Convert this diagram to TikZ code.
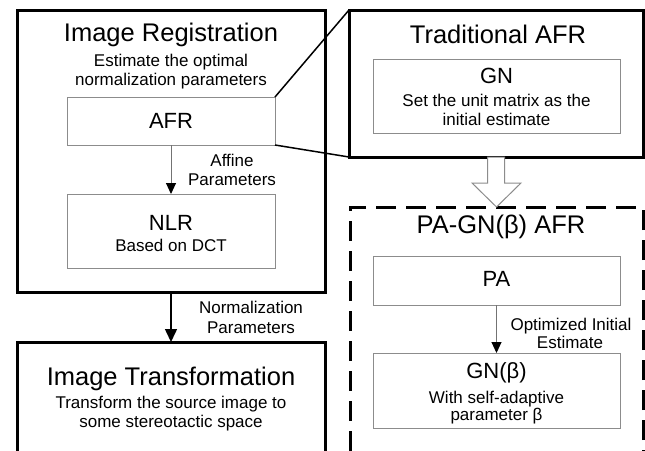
\documentclass[tikz,border=0pt]{standalone}
\usepackage{fontspec}
\setmainfont{Liberation Sans}
\usetikzlibrary{arrows.meta,calc}
\begin{document}
\begin{tikzpicture}[x=1pt,y=-1pt,
  outer/.style={draw=black,line width=3pt,fill=white,inner sep=0pt,outer sep=0pt,anchor=north west},
  dashbox/.style={draw=black,line width=3pt,dash pattern=on 20pt off 10pt,inner sep=0pt,outer sep=0pt,anchor=north west},
  inner/.style={draw=black!45,line width=1pt,fill=white,inner sep=0pt,outer sep=0pt,anchor=north west},
  ttl/.style={anchor=base,inner sep=0pt,font=\fontsize{25.5}{30}\selectfont},
  lbl/.style={anchor=base,inner sep=0pt,font=\fontsize{22}{26}\selectfont},
  sub/.style={anchor=base,inner sep=0pt,font=\fontsize{17}{20}\selectfont},
  flow/.style={draw=black!55,line width=1pt,-{Triangle[width=10pt,length=11pt,color=black]}},
  mainflow/.style={draw=black,line width=1.5pt,-{Triangle[width=12pt,length=13pt,color=black]}},
  link/.style={draw=black,line width=1.5pt}
]
\clip (0,0) rectangle (645,450);
\fill[white] (0,0) rectangle (645,450);

% Image Registration
\node[outer,minimum width=308pt,minimum height=282pt] (ir) at (17,10) {};
\node[ttl] (irt) at (171,41) {Image Registration};
\node[sub] (irs1) at (171,66) {Estimate the optimal};
\node[sub] (irs2) at (171,85) {normalization parameters};
\node[inner,minimum width=208pt,minimum height=48pt] (afr) at (67,97) {};
\node[lbl] (afrt) at (171,128) {AFR};
\node[inner,minimum width=208pt,minimum height=74pt] (nlr) at (67,194) {};
\node[lbl] (nlrt) at (171,230) {NLR};
\node[sub] (nlrs) at (171,251) {Based on DCT};
\draw[flow] (afr.south) -- (nlr.north);
\node[sub] (aff1) at (232,166) {Affine};
\node[sub] (aff2) at (232,185) {Parameters};

% Traditional AFR
\node[outer,minimum width=294pt,minimum height=147pt] (tafr) at (349,10) {};
\node[ttl] (taft) at (498,43) {Traditional AFR};
\node[inner,minimum width=247pt,minimum height=74pt] (gn) at (373,59) {};
\node[lbl] (gnt) at (496.5,83) {GN};
\node[sub] (gns1) at (496.5,106) {Set the unit matrix as the};
\node[sub] (gns2) at (496.5,125) {initial estimate};

% links
\draw[link] (afr.north east) -- (tafr.north west);
\draw[link] (afr.south east) -- (tafr.south west);

% PA-GN box
\node[dashbox,minimum width=293pt,minimum height=270pt] (pag) at (350,207) {};
\node[ttl] (pagt) at (501,233) {PA-GN(β) AFR};
\node[inner,minimum width=247pt,minimum height=49pt] (pa) at (373,256) {};
\node[lbl] (pat) at (496.5,286) {PA};
\node[inner,minimum width=247pt,minimum height=75pt] (gnb) at (373,353) {};
\node[lbl] (gnbt) at (496.5,378) {GN(β)};
\node[sub] (gnbs1) at (496.5,403) {With self-adaptive};
\node[sub] (gnbs2) at (496.5,420) {parameter β};
\draw[flow] (pa.south) -- (gnb.north);
\node[sub] (opt1) at (571,330) {Optimized Initial};
\node[sub] (opt2) at (570,348) {Estimate};

% hollow arrow
\draw[draw=black!45,line width=1pt,fill=white]
  ($(tafr.south)+(-8.5,0)$) -- ($(tafr.south)+(8.5,0)$) -- ($(tafr.south)+(8.5,26)$)
  -- ($(tafr.south)+(25,26)$) -- ($(pag.north)+(0,0)$) -- ($(tafr.south)+(-24,26)$)
  -- ($(tafr.south)+(-8.5,26)$) -- cycle;

% Image Transformation
\node[outer,minimum width=308pt,minimum height=130pt] (it) at (17,342) {};
\node[ttl] (itt) at (171,385) {Image Transformation};
\node[sub] (its1) at (171,408) {Transform the source image to};
\node[sub] (its2) at (171,427) {some stereotactic space};
\draw[mainflow] (ir.south) -- (it.north);
\node[sub] (nor1) at (251,313) {Normalization};
\node[sub] (nor2) at (251,333) {Parameters};
\end{tikzpicture}
\end{document}
